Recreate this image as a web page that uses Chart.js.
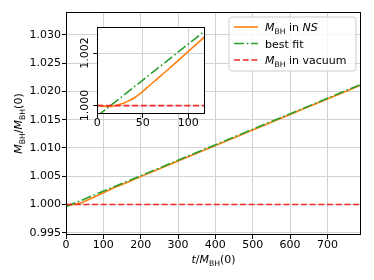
<!DOCTYPE html>
<html lang="en">
  <head>
    <meta charset="UTF-8" />
    <title>Black hole mass growth</title>
    <script src="https://cdn.jsdelivr.net/npm/chart.js"></script>
    <style>
      html,
      body {
        margin: 0;
        padding: 0;
        background: #fff;
      }
      .wrap {
        position: relative;
        width: 374px;
        height: 280px;
      }
      #mainChart {
        position: absolute;
        left: 0;
        top: 0;
      }
      #insetChart {
        position: absolute;
        left: 78px;
        top: 20px;
      }
    </style>
  </head>
  <body>
    <div class="wrap">
      <canvas id="mainChart" width="374" height="280"></canvas>
      <canvas id="insetChart" width="132" height="112"></canvas>
    </div>
    <script>
      // data
      const timeNS = [0, 5, 10, 15, 20, 25, 30, 35, 40, 45, 50, 55, 60, 65, 70, 80, 90, 100, 110, 120, 150, 200, 300, 400, 500, 600, 700, 790];
      const massNS = [1.0, 0.99999, 0.99997, 0.99997, 1.0, 1.00005, 1.00011, 1.00019, 1.00028, 1.0004, 1.00054, 1.00069, 1.00084, 1.00099, 1.00114, 1.00144, 1.00175, 1.00206, 1.00237, 1.00268, 1.00352, 1.00492, 1.00767, 1.01042, 1.01317, 1.01592, 1.01867, 1.02114];
      const timeFit = [0, 790];
      const massFit = [0.9996, 1.02125];
      const timeVac = [0, 790];
      const massVac = [1.0, 1.0];

      const mainXTicks = [0, 100, 200, 300, 400, 500, 600, 700];
      const mainYTicks = [0.995, 1.0, 1.005, 1.01, 1.015, 1.02, 1.025, 1.03];
      const insetXTicks = [0, 50, 100];
      const insetYTicks = [1.0, 1.002];

      const FONT = "'DejaVu Sans', sans-serif";
      const GRID = "#d2d2d2";

      function pairs(xs, ys) {
        return xs.map((x, i) => ({ x: x, y: ys[i] }));
      }

      function makeDatasets() {
        return [
          {
            label: "M_BH in NS",
            data: pairs(timeNS, massNS),
            borderColor: "#ff7f0e",
            borderWidth: 1.6,
            pointRadius: 0,
            cubicInterpolationMode: "monotone",
            order: 3,
          },
          {
            label: "best fit",
            data: pairs(timeFit, massFit),
            borderColor: "#2ca02c",
            borderWidth: 1.6,
            borderDash: [10, 2.7, 1.7, 2.7],
            pointRadius: 0,
            order: 2,
          },
          {
            label: "M_BH in vacuum",
            data: pairs(timeVac, massVac),
            borderColor: "#ee2a2a",
            borderWidth: 1.6,
            borderDash: [6, 2.7],
            pointRadius: 0,
            order: 1,
          },
        ];
      }

      // rich text: [text, kind] with kind "i" italic, "s" subscript, "" normal
      function fontFor(kind) {
        if (kind === "i") return "italic 11px " + FONT;
        if (kind === "s") return "7.7px " + FONT;
        return "11px " + FONT;
      }
      function drawRich(ctx, parts, x, y, align) {
        const widths = parts.map((p) => {
          ctx.font = fontFor(p[1]);
          return ctx.measureText(p[0]).width;
        });
        const total = widths.reduce((a, b) => a + b, 0);
        let cx = align === "center" ? x - total / 2 : x;
        parts.forEach((p, i) => {
          ctx.font = fontFor(p[1]);
          ctx.fillText(p[0], cx, p[1] === "s" ? y + 2.6 : y);
          cx += widths[i];
        });
      }

      const bgPlugin = {
        id: "bg",
        beforeDraw(chart) {
          const a = chart.chartArea;
          const c = chart.ctx;
          c.save();
          c.fillStyle = "#fff";
          c.fillRect(a.left, a.top, a.right - a.left, a.bottom - a.top);
          c.restore();
        },
      };

      const framePlugin = {
        id: "frame",
        afterDatasetsDraw(chart) {
          const a = chart.chartArea;
          const c = chart.ctx;
          c.save();
          c.strokeStyle = "#000";
          c.lineWidth = 1;
          const l = Math.round(a.left) + 0.5, t = Math.round(a.top) + 0.5;
          const r = Math.round(a.right) - 0.5, b = Math.round(a.bottom) - 0.5;
          c.strokeRect(l, t, r - l, b - t);
          c.restore();
        },
      };

      const labelsPlugin = {
        id: "labels",
        afterDraw(chart) {
          const c = chart.ctx;
          const a = chart.chartArea;
          c.save();
          c.fillStyle = "#000";
          c.textBaseline = "alphabetic";
          // x axis title
          drawRich(c, [["t", "i"], ["/", ""], ["M", "i"], ["BH", "s"], ["(0)", ""]], (a.left + a.right) / 2, 263, "center");
          // y axis title
          c.save();
          c.translate(22, (a.top + a.bottom) / 2);
          c.rotate(-Math.PI / 2);
          drawRich(c, [["M", "i"], ["BH", "s"], ["/", ""], ["M", "i"], ["BH", "s"], ["(0)", ""]], 0, 0, "center");
          c.restore();

          // legend
          const bx = 229, by = 17, bw = 127, bh = 54, rad = 3;
          c.beginPath();
          c.moveTo(bx + rad, by);
          c.arcTo(bx + bw, by, bx + bw, by + bh, rad);
          c.arcTo(bx + bw, by + bh, bx, by + bh, rad);
          c.arcTo(bx, by + bh, bx, by, rad);
          c.arcTo(bx, by, bx + bw, by, rad);
          c.closePath();
          c.fillStyle = "rgba(255,255,255,0.8)";
          c.fill();
          c.strokeStyle = "#cccccc";
          c.lineWidth = 1;
          c.stroke();

          const rows = [
            [["M", "i"], ["BH", "s"], [" in ", ""], ["NS", "i"]],
            [["best fit", ""]],
            [["M", "i"], ["BH", "s"], [" in vacuum", ""]],
          ];
          const ys = [27, 43.5, 60];
          chart.data.datasets.forEach((ds, i) => {
            c.save();
            c.strokeStyle = ds.borderColor;
            c.lineWidth = ds.borderWidth;
            c.setLineDash(ds.borderDash || []);
            c.beginPath();
            c.moveTo(234, ys[i]);
            c.lineTo(258, ys[i]);
            c.stroke();
            c.restore();
            c.fillStyle = "#000";
            drawRich(c, rows[i], 265, ys[i] + 4, "left");
          });
          c.restore();
        },
      };

      function fixedTicks(list) {
        return (scale) => {
          scale.ticks = list.map((v) => ({ value: v }));
        };
      }

      new Chart(document.getElementById("mainChart"), {
        type: "line",
        data: { datasets: makeDatasets() },
        options: {
          responsive: false,
          animation: false,
          layout: { padding: { top: 12, right: 13, left: 0, bottom: 0 } },
          plugins: { legend: { display: false }, tooltip: { enabled: false } },
          scales: {
            x: {
              type: "linear",
              min: 0,
              max: 790,
              afterBuildTicks: fixedTicks(mainXTicks),
              afterFit: (s) => { s.height = 45; },
              grid: { color: GRID, tickColor: "#000", tickLength: 4, lineWidth: 1 },
              border: { display: false },
              ticks: { color: "#000", font: { family: FONT, size: 11 }, padding: 0, maxRotation: 0, autoSkip: false },
            },
            y: {
              type: "linear",
              min: 0.99459,
              max: 1.03406,
              afterBuildTicks: fixedTicks(mainYTicks),
              afterFit: (s) => { s.width = 66; },
              grid: { color: GRID, tickColor: "#000", tickLength: 4, lineWidth: 1 },
              border: { display: false },
              ticks: {
                color: "#000",
                font: { family: FONT, size: 11 },
                padding: 1,
                autoSkip: false,
                callback: (v) => v.toFixed(3),
              },
            },
          },
        },
        plugins: [bgPlugin, framePlugin, labelsPlugin],
      });

      new Chart(document.getElementById("insetChart"), {
        type: "line",
        data: { datasets: makeDatasets() },
        options: {
          responsive: false,
          animation: false,
          layout: { padding: { top: 7, right: 5, left: 0, bottom: 0 } },
          plugins: { legend: { display: false }, tooltip: { enabled: false } },
          scales: {
            x: {
              type: "linear",
              min: 0,
              max: 118.4,
              afterBuildTicks: fixedTicks(insetXTicks),
              afterFit: (s) => { s.height = 18; },
              grid: { color: GRID, tickColor: "#000", tickLength: 4, lineWidth: 1 },
              border: { display: false },
              ticks: { color: "#000", font: { family: FONT, size: 11 }, padding: -1, maxRotation: 0, autoSkip: false },
            },
            y: {
              type: "linear",
              min: 0.99968,
              max: 1.00299,
              afterBuildTicks: fixedTicks(insetYTicks),
              afterFit: (s) => { s.width = 19.3; },
              grid: { color: GRID, tickColor: "#000", tickLength: 4, lineWidth: 1 },
              border: { display: false },
              ticks: {
                color: "#000",
                font: { family: FONT, size: 11 },
                padding: -8,
                minRotation: 90,
                maxRotation: 90,
                crossAlign: "center",
                autoSkip: false,
                callback: (v) => v.toFixed(3),
              },
            },
          },
        },
        plugins: [bgPlugin, framePlugin],
      });
    </script>
  </body>
</html>
